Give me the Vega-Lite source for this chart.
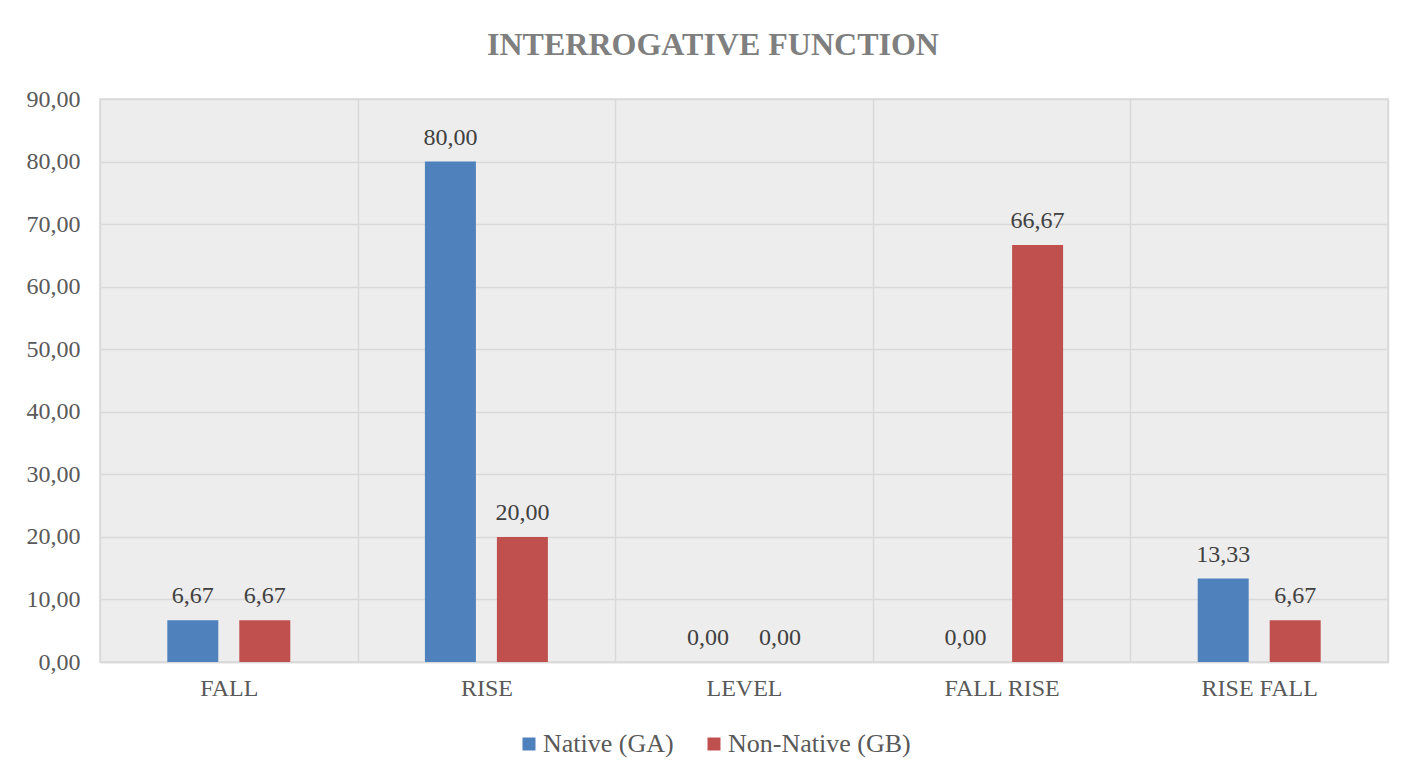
{
  "$schema": "https://vega.github.io/schema/vega-lite/v6.json",
  "autosize": {"type": "none"},
  "width": 1288,
  "height": 563,
  "padding": {"left": 100, "top": 99, "right": 37, "bottom": 114},
  "background": "white",
  "config": {
    "locale": {"number": {"decimal": ",", "thousands": ".", "grouping": [3], "currency": ["", " €"]}},
    "font": "Liberation Serif",
    "view": {"stroke": "#d9d9d9", "strokeWidth": 1.5, "fill": "#ededed"},
    "legend": {"labelFont": "Liberation Serif", "titleFont": "Liberation Serif"}
  },
  "title": {
    "text": "INTERROGATIVE FUNCTION",
    "font": "Liberation Serif",
    "fontSize": 32,
    "fontWeight": "bold",
    "color": "#7f7f7f",
    "anchor": "middle",
    "dx": -31,
    "dy": 39,
    "baseline": "alphabetic",
    "offset": 39
  },
  "data": {
    "values": [
      {"category": "FALL", "series": "Native (GA)", "value": 6.67},
      {"category": "FALL", "series": "Non-Native (GB)", "value": 6.67},
      {"category": "RISE", "series": "Native (GA)", "value": 80.0},
      {"category": "RISE", "series": "Non-Native (GB)", "value": 20.0},
      {"category": "LEVEL", "series": "Native (GA)", "value": 0.0},
      {"category": "LEVEL", "series": "Non-Native (GB)", "value": 0.0},
      {"category": "FALL RISE", "series": "Native (GA)", "value": 0.0},
      {"category": "FALL RISE", "series": "Non-Native (GB)", "value": 66.67},
      {"category": "RISE FALL", "series": "Native (GA)", "value": 13.33},
      {"category": "RISE FALL", "series": "Non-Native (GB)", "value": 6.67}
    ]
  },
  "encoding": {
    "x": {
      "field": "category",
      "type": "nominal",
      "sort": ["FALL", "RISE", "LEVEL", "FALL RISE", "RISE FALL"],
      "scale": {"paddingInner": 0, "paddingOuter": 0},
      "axis": {
        "title": null,
        "labelAngle": 0,
        "labelFont": "Liberation Serif",
        "labelFontSize": 24,
        "labelColor": "#595959",
        "labelPadding": 14,
        "ticks": false,
        "tickBand": "extent",
        "grid": true,
        "gridColor": "#d9d9d9",
        "gridWidth": 1.5,
        "domainColor": "#d9d9d9",
        "domainWidth": 1.5
      }
    },
    "xOffset": {
      "field": "series",
      "type": "nominal",
      "scale": {"paddingInner": 0.2917, "paddingOuter": 0.935}
    },
    "y": {
      "field": "value",
      "type": "quantitative",
      "scale": {"domain": [0, 90], "nice": false},
      "axis": {
        "title": null,
        "values": [0, 10, 20, 30, 40, 50, 60, 70, 80, 90],
        "format": ".2f",
        "labelFont": "Liberation Serif",
        "labelFontSize": 24,
        "labelColor": "#595959",
        "labelPadding": 20,
        "ticks": false,
        "domain": false,
        "grid": true,
        "gridColor": "#d9d9d9",
        "gridWidth": 1.5
      }
    }
  },
  "layer": [
    {
      "mark": {"type": "bar"},
      "encoding": {
        "color": {
          "field": "series",
          "type": "nominal",
          "scale": {"domain": ["Native (GA)", "Non-Native (GB)"], "range": ["#4f81bd", "#c0504d"]},
          "legend": {
            "title": null,
            "orient": "none",
            "direction": "horizontal",
            "legendX": 416,
            "legendY": 632,
            "symbolType": "square",
            "symbolSize": 169,
            "symbolStrokeWidth": 0,
            "labelFont": "Liberation Serif",
            "labelFontSize": 26,
            "labelColor": "#595959",
            "labelOffset": 1,
            "columnPadding": 27,
            "labelLimit": 400
          }
        }
      }
    },
    {
      "mark": {"type": "text", "baseline": "alphabetic", "dy": -17, "font": "Liberation Serif", "fontSize": 24, "color": "#404040"},
      "encoding": {
        "text": {"field": "value", "type": "quantitative", "format": ".2f"}
      }
    }
  ]
}
